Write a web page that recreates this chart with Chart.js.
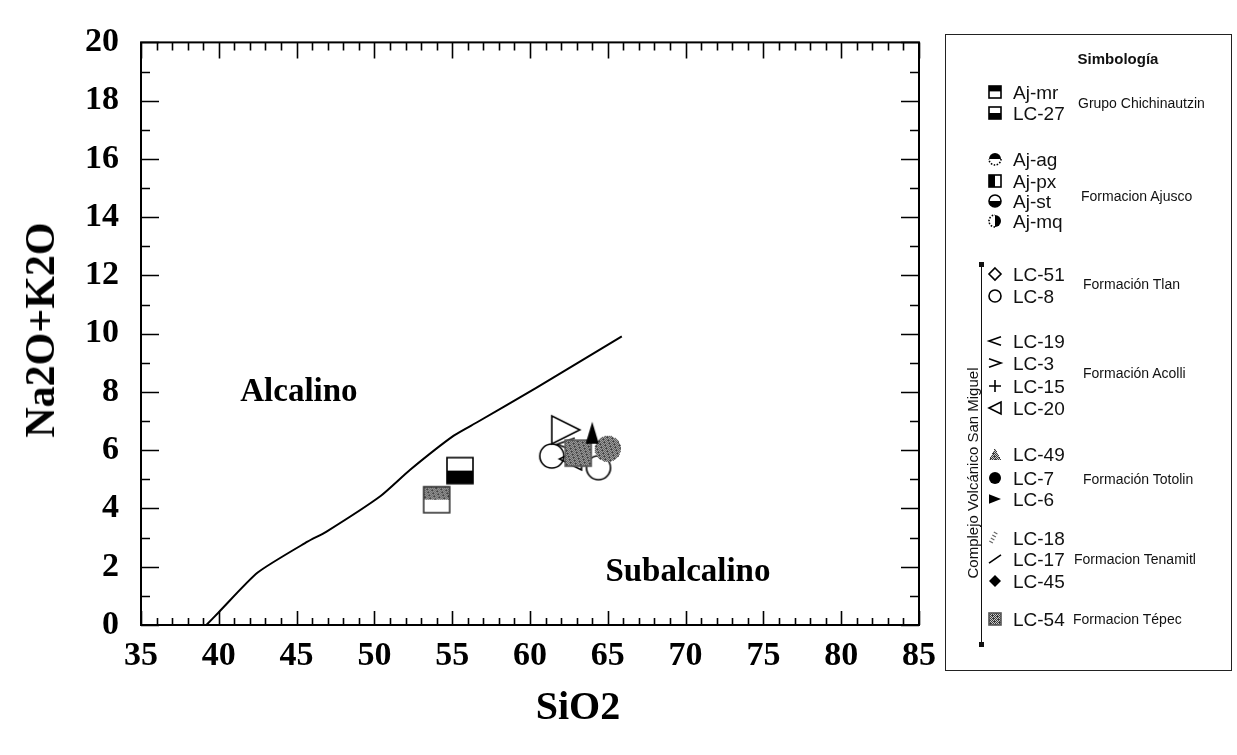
<!DOCTYPE html>
<html>
<head>
<meta charset="utf-8">
<script src="https://cdn.jsdelivr.net/npm/chart.js@4.4.0/dist/chart.umd.min.js"></script>
<style>
  body { margin: 0; background: #fff; }
  #wrap { position: relative; width: 1237px; height: 755px; overflow: hidden; }
  #tas { position: absolute; left: 0; top: 0; }
  .axis-title { position: absolute; font-family: 'Liberation Serif', 'Times New Roman', serif; font-weight: bold; font-size: 40px; color: #000; white-space: nowrap; }
  #ytitle { left: 40px; top: 330px; font-size: 42px; transform: translate(-50%, -50%) rotate(-90deg); }
  #xtitle { left: 578px; top: 705px; transform: translate(-50%, -50%); }
  #legend { position: absolute; left: 945px; top: 34px; width: 287px; height: 637px; border: 1px solid #222; box-sizing: border-box; font-family: 'Liberation Sans', Arial, sans-serif; color: #111; }
  #legend .ttl { position: absolute; left: 57px; width: 230px; text-align: center; top: 15px; font-size: 15px; font-weight: bold; }
  #legend .nm { position: absolute; font-size: 19px; line-height: 19px; transform: translateY(-50%); white-space: nowrap; }
  #legend .grp { position: absolute; font-size: 14px; line-height: 14px; transform: translateY(-50%); white-space: nowrap; }
  #legend canvas { position: absolute; transform: translate(-50%, -50%); }
  #legend .vline { position: absolute; width: 1px; background: #111; }
  #legend .cap { position: absolute; width: 5px; height: 5px; background: #111; }
  #legend .cvsm { position: absolute; font-size: 15px; white-space: nowrap; transform: translate(-50%, -50%) rotate(-90deg); }
</style>
</head>
<body>
<div id="wrap">
  <canvas id="tas" width="1237" height="755"></canvas>
  <div id="ytitle" class="axis-title">Na2O+K2O</div>
  <div id="xtitle" class="axis-title">SiO2</div>
  <div id="legend"></div>
</div>
<script>
// samples plotted on the diagram (SiO2 vs Na2O+K2O, wt%)
const samples = ['Aj-mr', 'LC-27', 'LC-6', 'LC-54', 'LC-49', 'LC-20', 'LC-19', 'LC-3', 'LC-8', 'LC-7'];
const sio2 = [54.0, 55.5, 64.0, 63.1, 65.0, 62.6, 62.3, 62.3, 61.4, 64.4];
const alkalis = [4.3, 5.3, 6.6, 5.9, 6.05, 5.7, 6.2, 6.7, 5.8, 5.4];
const plotMarker = ['sqDitherTop', 'sqBottomBlack', 'triUpBlack', 'checker', 'grayBlob', 'triLeftOpen', 'chevLeft', 'triRightOpen', 'circleOpen', 'circleOpen'];
const plotSize = [26, 26, 22, 26, 26, 22, 18, 28, 24, 24];

// alkaline / subalkaline dividing line
const lineSiO2 = [39.2, 40.0, 42.5, 45.7, 46.9, 50.4, 52.3, 55.1, 56.6, 60.4, 65.9];
const lineAlk = [0, 0.44, 1.8, 2.86, 3.2, 4.43, 5.33, 6.5, 6.96, 8.14, 9.91];

const xTicks = [35, 40, 45, 50, 55, 60, 65, 70, 75, 80, 85];
const yTicks = [0, 2, 4, 6, 8, 10, 12, 14, 16, 18, 20];

const fieldNames = ['Alcalino', 'Subalcalino'];
const fieldSiO2 = [45.15, 70.15];
const fieldAlk = [7.98, 1.8];

// legend (Simbología)
const legendNames = ['Aj-mr', 'LC-27', 'Aj-ag', 'Aj-px', 'Aj-st', 'Aj-mq', 'LC-51', 'LC-8', 'LC-19', 'LC-3', 'LC-15', 'LC-20', 'LC-49', 'LC-7', 'LC-6', 'LC-18', 'LC-17', 'LC-45', 'LC-54'];
const legendMarker = ['sqTopBlack', 'sqBottomBlack', 'circTopBlack', 'sqLeftBlack', 'circBottomBlack', 'circRightBlack', 'diamondOpen', 'circleOpen', 'chevLeft', 'chevRight', 'plus', 'triLeftOpen', 'grayTriUp', 'circleBlack', 'triRightBlack', 'grayFeather', 'slash', 'diamondBlack', 'checker'];
const groupNames = ['Grupo Chichinautzin', 'Formacion Ajusco', 'Formación Tlan', 'Formación Acolli', 'Formación Totolin', 'Formacion Tenamitl', 'Formacion Tépec'];

// legend row positions (px, inside the legend box)
const rowY = [57, 78, 124, 146, 166, 186, 239, 261, 306, 328, 351, 373, 419, 443, 464, 503, 524, 546, 584];
const groupX = [132, 135, 137, 137, 137, 128, 127];
const groupY = [68, 161, 249, 338, 444, 524, 584];

function dither(g, x0, y0, w, h, clipFn) {
  for (let i = 0; i < w; i++) {
    for (let j = 0; j < h; j++) {
      if (clipFn && !clipFn(x0 + i + 0.5, y0 + j + 0.5)) continue;
      const on = ((i + j) % 2 === 0) || ((i * 5 + j * 3) % 7 === 0);
      g.fillStyle = on ? '#3a3a3a' : '#c8c8c8';
      g.fillRect(x0 + i, y0 + j, 1, 1);
    }
  }
}

function makeMarker(kind, size) {
  const pad = 3;
  const n = Math.round(size + pad * 2);
  const cv = document.createElement('canvas');
  cv.width = n; cv.height = n;
  const g = cv.getContext('2d');
  const c = n / 2, r = size / 2;
  g.lineWidth = 1.6;
  g.strokeStyle = '#000';
  g.fillStyle = '#000';
  const tri = (pts) => { g.beginPath(); g.moveTo(pts[0][0], pts[0][1]); g.lineTo(pts[1][0], pts[1][1]); g.lineTo(pts[2][0], pts[2][1]); g.closePath(); };
  switch (kind) {
    case 'sqTopBlack':
      g.fillRect(c - r, c - r, size, size * 0.45);
      g.strokeRect(c - r, c - r, size, size);
      break;
    case 'sqBottomBlack':
      g.fillStyle = '#fff'; g.fillRect(c - r, c - r, size, size);
      g.fillStyle = '#000'; g.fillRect(c - r, c, size, r);
      g.strokeRect(c - r, c - r, size, size);
      break;
    case 'sqDitherTop':
      g.fillStyle = '#fff'; g.fillRect(c - r, c - r, size, size);
      dither(g, Math.round(c - r), Math.round(c - r), Math.round(size), Math.round(size * 0.5));
      g.strokeStyle = '#333';
      g.strokeRect(c - r, c - r, size, size);
      break;
    case 'sqLeftBlack':
      g.fillRect(c - r, c - r, r, size);
      g.strokeRect(c - r, c - r, size, size);
      break;
    case 'checker':
      dither(g, Math.round(c - r), Math.round(c - r), Math.round(size), Math.round(size));
      g.strokeStyle = '#555';
      g.strokeRect(c - r, c - r, size, size);
      break;
    case 'grayBlob':
      dither(g, Math.round(c - r), Math.round(c - r), Math.round(size), Math.round(size), (x, y) => (x - c) * (x - c) + (y - c) * (y - c) <= r * r);
      break;
    case 'grayTriUp':
      dither(g, Math.round(c - r), Math.round(c - r), Math.round(size), Math.round(size), (x, y) => y >= c - r + Math.abs(x - c) * 2 && y <= c + r);
      break;
    case 'grayFeather':
      g.strokeStyle = '#666'; g.lineWidth = 1.2;
      for (let k = 0; k < 4; k++) {
        g.beginPath(); g.moveTo(c - r * 0.2 - k * 1.5, c - r + k * 3); g.lineTo(c + r * 0.4 - k * 1.5, c - r + 2 + k * 3); g.stroke();
      }
      break;
    case 'circTopBlack':
      g.beginPath(); g.arc(c, c, r, Math.PI, 2 * Math.PI); g.closePath(); g.fill();
      g.setLineDash([1.5, 1.5]); g.beginPath(); g.arc(c, c, r, 0, Math.PI); g.stroke(); g.setLineDash([]);
      break;
    case 'circBottomBlack':
      g.beginPath(); g.arc(c, c, r, 0, Math.PI); g.closePath(); g.fill();
      g.beginPath(); g.arc(c, c, r, 0, 2 * Math.PI); g.stroke();
      break;
    case 'circRightBlack':
      g.beginPath(); g.arc(c, c, r, -Math.PI / 2, Math.PI / 2); g.closePath(); g.fill();
      g.setLineDash([1.5, 1.5]); g.beginPath(); g.arc(c, c, r, Math.PI / 2, 1.5 * Math.PI); g.stroke(); g.setLineDash([]);
      break;
    case 'circleOpen':
      g.beginPath(); g.arc(c, c, r, 0, 2 * Math.PI); g.stroke();
      break;
    case 'circleBlack':
      g.beginPath(); g.arc(c, c, r, 0, 2 * Math.PI); g.fill();
      break;
    case 'diamondOpen':
      g.beginPath(); g.moveTo(c, c - r); g.lineTo(c + r, c); g.lineTo(c, c + r); g.lineTo(c - r, c); g.closePath(); g.stroke();
      break;
    case 'diamondBlack':
      g.beginPath(); g.moveTo(c, c - r); g.lineTo(c + r, c); g.lineTo(c, c + r); g.lineTo(c - r, c); g.closePath(); g.fill();
      break;
    case 'chevLeft':
      g.beginPath(); g.moveTo(c + r, c - r * 0.7); g.lineTo(c - r, c); g.lineTo(c + r, c + r * 0.7); g.stroke();
      break;
    case 'chevRight':
      g.beginPath(); g.moveTo(c - r, c - r * 0.7); g.lineTo(c + r, c); g.lineTo(c - r, c + r * 0.7); g.stroke();
      break;
    case 'plus':
      g.beginPath(); g.moveTo(c - r, c); g.lineTo(c + r, c); g.moveTo(c, c - r); g.lineTo(c, c + r); g.stroke();
      break;
    case 'slash':
      g.beginPath(); g.moveTo(c - r, c + r * 0.7); g.lineTo(c + r, c - r * 0.7); g.stroke();
      break;
    case 'triLeftOpen':
      tri([[c - r, c], [c + r, c - r], [c + r, c + r]]); g.stroke();
      break;
    case 'triRightOpen':
      tri([[c + r, c], [c - r, c - r], [c - r, c + r]]); g.stroke();
      break;
    case 'triRightBlack':
      tri([[c + r, c], [c - r, c - r * 0.8], [c - r, c + r * 0.8]]); g.fill();
      break;
    case 'triUpBlack':
      tri([[c, c - r], [c + r * 0.6, c + r], [c - r * 0.6, c + r]]); g.fill();
      break;
  }
  return cv;
}

const datasets = samples.map((name, i) => ({
  type: 'scatter',
  label: name,
  data: [{ x: sio2[i], y: alkalis[i] }],
  pointStyle: makeMarker(plotMarker[i], plotSize[i]),
  order: i
}));
datasets.push({
  type: 'line',
  label: 'Alcalino / Subalcalino',
  data: lineSiO2.map((x, i) => ({ x: x, y: lineAlk[i] })),
  borderColor: '#000',
  borderWidth: 2,
  pointRadius: 0,
  tension: 0.2,
  fill: false,
  order: 100
});

const tickFont = { family: "'Liberation Serif', 'Times New Roman', serif", weight: 'bold', size: 34 };

// plot frame with inward ticks on all four sides
const frameTicks = {
  id: 'frameTicks',
  afterDraw(chart) {
    const { ctx, chartArea: a, scales: { x, y } } = chart;
    ctx.save();
    ctx.strokeStyle = '#000';
    ctx.lineWidth = 2;
    ctx.strokeRect(a.left, a.top, a.right - a.left, a.bottom - a.top);
    ctx.lineWidth = 1.6;
    ctx.beginPath();
    for (let v = 35; v <= 85; v++) {
      const px = Math.round(x.getPixelForValue(v)) + 0.5;
      const major = v % 5 === 0;
      ctx.moveTo(px, a.bottom); ctx.lineTo(px, a.bottom - (major ? 14 : 7));
      ctx.moveTo(px, a.top); ctx.lineTo(px, a.top + (major ? 16 : 8));
    }
    for (let v = 0; v <= 20; v++) {
      const py = Math.round(y.getPixelForValue(v)) + 0.5;
      const major = v % 2 === 0;
      ctx.moveTo(a.left, py); ctx.lineTo(a.left + (major ? 18 : 9), py);
      ctx.moveTo(a.right, py); ctx.lineTo(a.right - (major ? 18 : 9), py);
    }
    ctx.stroke();
    // field names
    ctx.fillStyle = '#000';
    ctx.font = "bold 33px 'Liberation Serif', 'Times New Roman', serif";
    ctx.textAlign = 'center';
    ctx.textBaseline = 'middle';
    fieldNames.forEach((t, i) => ctx.fillText(t, x.getPixelForValue(fieldSiO2[i]), y.getPixelForValue(fieldAlk[i])));
    ctx.restore();
  }
};

new Chart(document.getElementById('tas'), {
  data: { datasets: datasets },
  options: {
    responsive: false,
    animation: false,
    devicePixelRatio: 1,
    layout: { padding: { left: 0, top: 31, right: 318, bottom: 0 } },
    plugins: { legend: { display: false }, tooltip: { enabled: false } },
    scales: {
      x: {
        type: 'linear', position: 'bottom', min: 35, max: 85,
        afterBuildTicks: s => { s.ticks = xTicks.map(v => ({ value: v })); },
        afterFit: s => { s.height = 130; },
        grid: { display: false, drawTicks: false },
        border: { display: false },
        ticks: { font: tickFont, color: '#000', padding: 11, maxRotation: 0, autoSkip: false }
      },
      y: {
        type: 'linear', position: 'left', min: 0, max: 20,
        afterBuildTicks: s => { s.ticks = yTicks.map(v => ({ value: v })); },
        afterFit: s => { s.width = 141; },
        grid: { display: false, drawTicks: false },
        border: { display: false },
        ticks: { font: tickFont, color: '#000', padding: 22, autoSkip: false }
      }
    }
  },
  plugins: [frameTicks]
});

// legend box
const leg = document.getElementById('legend');
const ttl = document.createElement('div');
ttl.className = 'ttl'; ttl.textContent = 'Simbología';
leg.appendChild(ttl);
legendNames.forEach((name, i) => {
  const icon = makeMarker(legendMarker[i], 12);
  icon.style.left = '49px'; icon.style.top = rowY[i] + 'px';
  leg.appendChild(icon);
  const t = document.createElement('div');
  t.className = 'nm'; t.textContent = name;
  t.style.left = '67px'; t.style.top = rowY[i] + 'px';
  leg.appendChild(t);
});
groupNames.forEach((name, i) => {
  const t = document.createElement('div');
  t.className = 'grp'; t.textContent = name;
  t.style.left = groupX[i] + 'px'; t.style.top = groupY[i] + 'px';
  leg.appendChild(t);
});
const vl = document.createElement('div');
vl.className = 'vline'; vl.style.left = '35px'; vl.style.top = '229px'; vl.style.height = '381px';
leg.appendChild(vl);
[227, 607].forEach(t => {
  const cp = document.createElement('div');
  cp.className = 'cap'; cp.style.left = '33px'; cp.style.top = t + 'px';
  leg.appendChild(cp);
});
const cv = document.createElement('div');
cv.className = 'cvsm'; cv.textContent = 'Complejo Volcánico San Miguel';
cv.style.left = '26px'; cv.style.top = '438px';
leg.appendChild(cv);
</script>
</body>
</html>
